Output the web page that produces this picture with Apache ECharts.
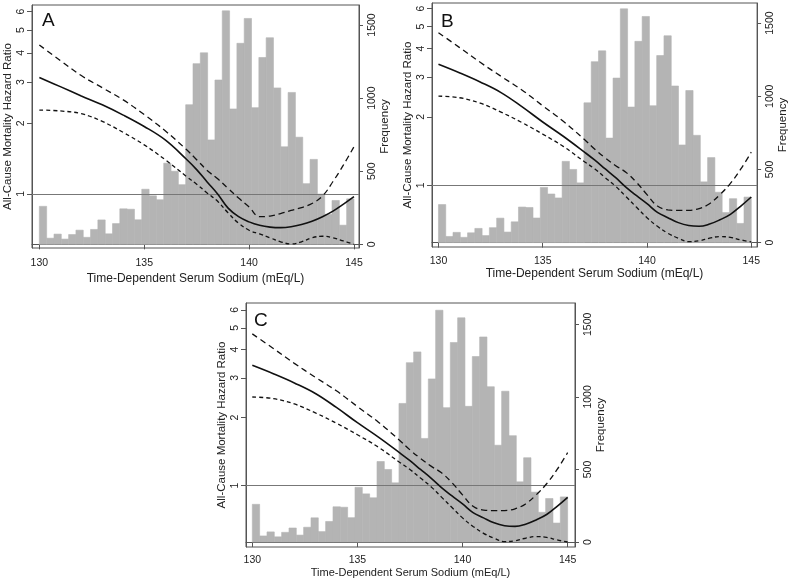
<!DOCTYPE html>
<html>
<head>
<meta charset="utf-8">
<script src="https://cdn.jsdelivr.net/npm/echarts@6/dist/echarts.min.js"></script>
<style>html,body{margin:0;padding:0;background:#fff;}#c{width:790px;height:579px;}</style>
</head>
<body>
<div id="c"></div>
<script>
// ---- data ----
const binStart = 130, binEnd = 145;
const frequency = [260, 42, 70, 36, 67, 97, 48, 102, 167, 72, 142, 243, 240, 168, 377, 332, 305, 555, 500, 408,
  955, 1236, 1310, 714, 1124, 1597, 926, 1375, 1545, 935, 1278, 1413, 1070, 667, 1039, 733, 415, 581, 344, 205, 300, 131, 311];

const sodium = [130, 131, 132, 133, 134, 135, 136, 137, 137.5, 138, 138.5, 139, 139.5, 140, 140.5, 141, 141.5, 142, 142.5, 143, 143.5, 144, 144.5, 145];

const hrA      = [3.14, 2.87, 2.62, 2.40, 2.17, 1.94, 1.70, 1.41, 1.27, 1.125, 1.00, 0.87, 0.80, 0.76, 0.735, 0.722, 0.718, 0.724, 0.740, 0.765, 0.80, 0.845, 0.905, 0.974];
const upperA   = [4.32, 3.71, 3.20, 2.84, 2.52, 2.18, 1.86, 1.55, 1.40, 1.26, 1.16, 1.056, 0.96, 0.88, 0.80, 0.805, 0.825, 0.85, 0.875, 0.91, 0.98, 1.13, 1.33, 1.59];
const lowerA   = [2.28, 2.26, 2.20, 2.04, 1.83, 1.62, 1.40, 1.19, 1.10, 1.01, 0.93, 0.83, 0.75, 0.70, 0.675, 0.65, 0.625, 0.612, 0.625, 0.65, 0.66, 0.65, 0.63, 0.61];

const hrB      = [3.41, 3.13, 2.85, 2.56, 2.22, 1.90, 1.64, 1.40, 1.29, 1.18, 1.08, 0.98, 0.90, 0.83, 0.76, 0.72, 0.685, 0.665, 0.66, 0.675, 0.705, 0.745, 0.81, 0.888];
const upperB   = [4.70, 4.05, 3.48, 3.02, 2.63, 2.24, 1.91, 1.59, 1.44, 1.32, 1.22, 1.14, 1.03, 0.91, 0.81, 0.78, 0.775, 0.776, 0.79, 0.83, 0.91, 1.02, 1.18, 1.40];
const lowerB   = [2.47, 2.43, 2.30, 2.10, 1.89, 1.68, 1.48, 1.27, 1.18, 1.08, 0.99, 0.89, 0.80, 0.72, 0.66, 0.615, 0.585, 0.565, 0.57, 0.585, 0.595, 0.59, 0.575, 0.563];

const hrC = hrB.slice(), upperC = upperB.slice(), lowerC = lowerB.slice();

const xTicks = [130, 135, 140, 145];
const hrTicks = [1, 2, 3, 4, 5, 6];
const freqTicks = [0, 500, 1000, 1500];
const panelLetters = ['A', 'B', 'C'];
const xTitle = 'Time-Dependent Serum Sodium (mEq/L)';
const yTitle = 'All-Cause Mortality Hazard Ratio';
const y2Title = 'Frequency';

// ---- build ----
const FONT = '"Liberation Sans", Arial, Helvetica, sans-serif';
const TXT = '#222';
const AX = '#555';

const panels = [
  {grid: {left: 32, top: 5, width: 327, height: 243}, x: [129.65, 145.24], hr: [0.588, 6.40], fq: [-25, 1637],
   est: hrA, up: upperA, lo: lowerA, xNameGap: 25, xNameSize: 12, xLabMargin: 10, letter: [42, 11]},
  {grid: {left: 432, top: 3, width: 329, height: 244}, x: [129.69, 145.28], hr: [0.535, 6.35], fq: [-30, 1637],
   est: hrB, up: upperB, lo: lowerB, xNameGap: 21, xNameSize: 12, xLabMargin: 9, letter: [441, 12]},
  {grid: {left: 246, top: 303, width: 329, height: 245}, x: [129.70, 145.35], hr: [0.535, 6.44], fq: [-34, 1647],
   est: hrC, up: upperC, lo: lowerC, xNameGap: 20, xNameSize: 11, xLabMargin: 8, letter: [254, 311]}
];

const bins = frequency.map((f, i) => {
  const w = (binEnd - binStart) / frequency.length;
  return [binStart + i * w, binStart + (i + 1) * w, f];
});

function histRender(params, api) {
  const p0 = api.coord([api.value(0), api.value(2)]);
  const p1 = api.coord([api.value(1), 0]);
  return {type: 'rect', shape: {x: p0[0], y: p0[1], width: p1[0] - p0[0], height: p1[1] - p0[1]},
    style: {fill: '#b4b4b4', stroke: '#b4b4b4', lineWidth: 0.6}};
}

const option = {animation: false, backgroundColor: '#fff', grid: [], xAxis: [], yAxis: [], series: [], graphic: []};

panels.forEach((p, i) => {
  option.grid.push(Object.assign({show: true, borderColor: AX, borderWidth: 1, backgroundColor: 'transparent'}, p.grid));
  option.xAxis.push({
    type: 'value', gridIndex: i, min: p.x[0], max: p.x[1],
    name: xTitle, nameLocation: 'middle', nameGap: p.xNameGap,
    nameTextStyle: {fontFamily: FONT, fontSize: p.xNameSize, color: TXT},
    axisLine: {show: true, lineStyle: {color: AX}},
    axisTick: {show: true, length: 5, lineStyle: {color: AX}, customValues: xTicks},
    axisLabel: {fontFamily: FONT, fontSize: 10.5, color: TXT, margin: p.xLabMargin, customValues: xTicks},
    splitLine: {show: false}
  });
  option.yAxis.push({
    type: 'log', gridIndex: i, position: 'left', min: p.hr[0], max: p.hr[1], logBase: 10,
    name: yTitle, nameLocation: 'middle', nameGap: 18,
    nameTextStyle: {fontFamily: FONT, fontSize: 11.5, color: TXT},
    axisLine: {show: true, lineStyle: {color: AX}},
    axisTick: {show: true, length: 5, lineStyle: {color: AX}, customValues: hrTicks},
    axisLabel: {fontFamily: FONT, fontSize: 10.5, color: TXT, rotate: 90, margin: 5, customValues: hrTicks,
      formatter: v => String(Math.round(v))},
    splitLine: {show: false}, minorTick: {show: false}
  });
  option.yAxis.push({
    type: 'value', gridIndex: i, position: 'right', min: p.fq[0], max: p.fq[1],
    name: y2Title, nameLocation: 'middle', nameGap: 19,
    nameTextStyle: {fontFamily: FONT, fontSize: 11.5, color: TXT},
    axisLine: {show: true, lineStyle: {color: AX}},
    axisTick: {show: true, length: 4, lineStyle: {color: AX}, customValues: freqTicks},
    axisLabel: {fontFamily: FONT, fontSize: 10.5, color: TXT, rotate: 90, margin: 8, customValues: freqTicks,
      formatter: v => String(Math.round(v))},
    splitLine: {show: false}
  });
  option.series.push({
    type: 'custom', xAxisIndex: i, yAxisIndex: 2 * i + 1, renderItem: histRender,
    data: bins, encode: {x: [0, 1], y: 2}, z: 1, silent: true
  });
  const mk = (arr) => sodium.map((s, k) => [s, arr[k]]);
  option.series.push({
    type: 'line', xAxisIndex: i, yAxisIndex: 2 * i, data: mk(p.est), smooth: 0.4, symbol: 'none',
    lineStyle: {color: '#111', width: 1.6}, z: 5,
    markLine: {silent: true, symbol: 'none', label: {show: false}, lineStyle: {color: '#777', width: 1, type: 'solid'},
      data: [{yAxis: 1}]}
  });
  option.series.push({
    type: 'line', xAxisIndex: i, yAxisIndex: 2 * i, data: mk(p.up), smooth: 0.4, symbol: 'none',
    lineStyle: {color: '#111', width: 1.3, type: [6, 4]}, z: 5
  });
  option.series.push({
    type: 'line', xAxisIndex: i, yAxisIndex: 2 * i, data: mk(p.lo), smooth: 0.4, symbol: 'none',
    lineStyle: {color: '#111', width: 1.3, type: [4, 3]}, z: 5
  });
  option.graphic.push({type: 'text', left: p.letter[0], top: p.letter[1], z: 10,
    style: {text: panelLetters[i], fontFamily: FONT, fontSize: 19, fill: '#111'}});
});

const chart = echarts.init(document.getElementById('c'), null, {renderer: 'canvas'});
chart.setOption(option);
</script>
</body>
</html>
